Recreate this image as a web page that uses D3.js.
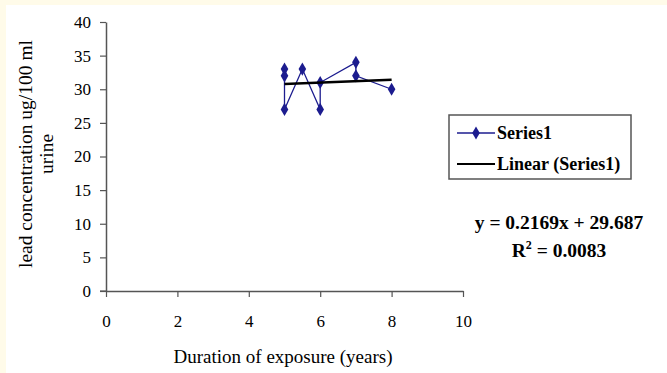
<!DOCTYPE html>
<html>
<head>
<meta charset="utf-8">
<script src="https://cdn.jsdelivr.net/npm/d3@7"></script>
<style>
  html, body { margin: 0; padding: 0; background: #fff; }
  svg { display: block; font-family: "Liberation Serif", "Times New Roman", serif; }
</style>
</head>
<body>
<div id="chart"></div>
<script>
// data
const years = [5, 5, 5, 5.5, 6, 6, 7, 7, 8];
const lead = [33, 32, 27, 33, 27, 31, 34, 32, 30];
const xTicks = [0, 2, 4, 6, 8, 10];
const yTicks = [0, 5, 10, 15, 20, 25, 30, 35, 40];
const slope = 0.2169, intercept = 29.687;
const legendLabels = ["Series1", "Linear (Series1)"];

const W = 667, H = 373;
const svg = d3.select("#chart").append("svg")
    .attr("width", W)
    .attr("height", H);

// cream frame on top / left edges
svg.append("rect").attr("x", 0).attr("y", 0).attr("width", W).attr("height", H).attr("fill", "#fffbe9");
svg.append("rect").attr("x", 6).attr("y", 5).attr("width", W - 6).attr("height", H - 5).attr("fill", "#fff");

const x = d3.scaleLinear().domain([0, 10]).range([106, 463]);
const y = d3.scaleLinear().domain([0, 40]).range([291, 22]);

// Y axis
const yAxis = svg.append("g")
    .attr("transform", `translate(${x(0)},0)`)
    .call(d3.axisLeft(y).tickValues(yTicks).tickSize(6).tickPadding(9).tickSizeOuter(0));
// X axis
const xAxis = svg.append("g")
    .attr("transform", `translate(0,${y(0)})`)
    .call(d3.axisBottom(x).tickValues(xTicks).tickSize(6).tickPadding(18).tickSizeOuter(0));

[xAxis, yAxis].forEach(a => {
    a.select(".domain").attr("stroke", "#555").attr("stroke-width", 1.5);
    a.selectAll(".tick line").attr("stroke", "#555").attr("stroke-width", 1.2);
    a.selectAll("text")
        .attr("font-family", "Liberation Serif, serif")
        .attr("font-size", 17)
        .attr("fill", "#000");
});
// small left stub of the x axis at the origin
svg.append("line")
    .attr("x1", x(0) - 6).attr("x2", x(0))
    .attr("y1", y(0)).attr("y2", y(0))
    .attr("stroke", "#555").attr("stroke-width", 1.2);

// axis titles
svg.append("text")
    .attr("x", 283).attr("y", 363)
    .attr("text-anchor", "middle")
    .attr("font-size", 19)
    .text("Duration of exposure (years)");

const yTitle = svg.append("text")
    .attr("transform", "translate(32,154) rotate(-90)")
    .attr("text-anchor", "middle")
    .attr("font-size", 19.5);
yTitle.append("tspan").attr("x", 0).attr("y", 0).text("lead concentration ug/100 ml");
yTitle.append("tspan").attr("x", 0).attr("y", 21).text("urine");

// data series
const pts = years.map((d, i) => [d, lead[i]]);
const blue = "#1c1c8f";
svg.append("path")
    .datum(pts)
    .attr("fill", "none")
    .attr("stroke", blue)
    .attr("stroke-width", 1.3)
    .attr("d", d3.line().x(d => x(d[0])).y(d => y(d[1])));

const diamond = d3.symbol().type(d3.symbolDiamond).size(50);
svg.append("g").selectAll("path")
    .data(pts)
    .join("path")
    .attr("transform", d => `translate(${x(d[0])},${y(d[1])})`)
    .attr("d", diamond)
    .attr("fill", blue);

// linear trend line
const xMin = d3.min(years), xMax = d3.max(years);
svg.append("line")
    .attr("x1", x(xMin)).attr("y1", y(slope * xMin + intercept))
    .attr("x2", x(xMax)).attr("y2", y(slope * xMax + intercept))
    .attr("stroke", "#000")
    .attr("stroke-width", 2.5);

// legend
const lg = svg.append("g").attr("transform", "translate(449,115)");
lg.append("rect")
    .attr("width", 182).attr("height", 64)
    .attr("fill", "#fff")
    .attr("stroke", "#555").attr("stroke-width", 1.5);
legendLabels.forEach((lab, i) => {
    const cy = 18 + i * 31;
    lg.append("line")
        .attr("x1", 8).attr("x2", 46).attr("y1", cy).attr("y2", cy)
        .attr("stroke", i === 0 ? blue : "#000")
        .attr("stroke-width", i === 0 ? 1.3 : 2);
    if (i === 0) {
        lg.append("path")
            .attr("transform", `translate(27,${cy})`)
            .attr("d", diamond)
            .attr("fill", blue);
    }
    lg.append("text")
        .attr("x", 48).attr("y", cy + 6)
        .attr("font-size", 18)
        .attr("font-weight", "bold")
        .text(lab);
});

// equation
svg.append("text")
    .attr("x", 559).attr("y", 229)
    .attr("text-anchor", "middle")
    .attr("font-size", 19.5)
    .attr("font-weight", "bold")
    .text(`y = ${slope}x + ${intercept}`);
const r2 = svg.append("text")
    .attr("x", 559).attr("y", 257)
    .attr("text-anchor", "middle")
    .attr("font-size", 19.5)
    .attr("font-weight", "bold");
r2.append("tspan").text("R");
r2.append("tspan").attr("dy", -8).attr("font-size", 12).text("2");
r2.append("tspan").attr("dy", 8).text(" = 0.0083");
</script>
</body>
</html>
